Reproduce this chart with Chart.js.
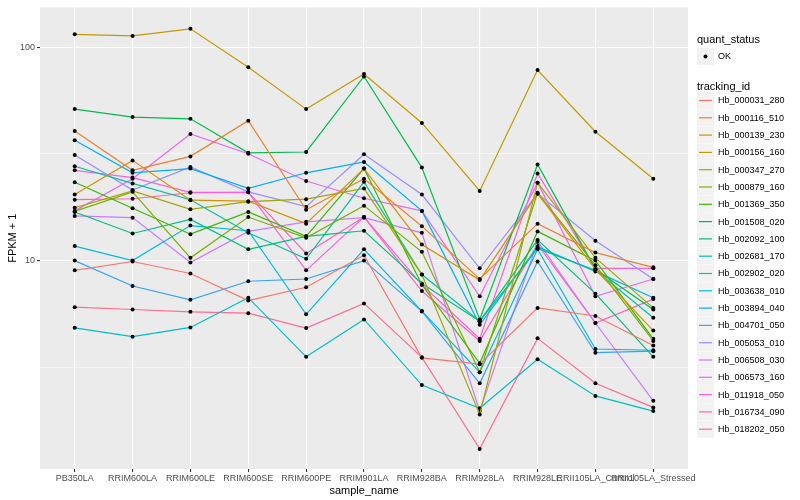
<!DOCTYPE html>
<html>
<head>
<meta charset="utf-8">
<script src="https://cdn.jsdelivr.net/npm/chart.js@4/dist/chart.umd.min.js"></script>
<style>
  body { margin: 0; background: #fff; }
  canvas { display: block; }
</style>
</head>
<body>
<canvas id="fpkmChart" width="800" height="500"></canvas>
<script>

/* categories */
const samples = ["PB350LA","RRIM600LA","RRIM600LE","RRIM600SE","RRIM600PE","RRIM901LA",
                 "RRIM928BA","RRIM928LA","RRIM928LE","RRII105LA_Control","RRII105LA_Stressed"];

const trackingIds = ["Hb_000031_280","Hb_000116_510","Hb_000139_230","Hb_000156_160","Hb_000347_270",
                     "Hb_000879_160","Hb_001369_350","Hb_001508_020","Hb_002092_100","Hb_002681_170",
                     "Hb_002902_020","Hb_003638_010","Hb_003894_040","Hb_004701_050","Hb_005053_010",
                     "Hb_006508_030","Hb_006573_160","Hb_011918_050","Hb_016734_090","Hb_018202_050"];

/* FPKM + 1, one array per gene */
const hb_000031_280 = [9.0, 9.9, 8.7, 6.5, 7.5, 10.6, 3.5, 3.27, 6.0, 5.5, 4.0];
const hb_000116_510 = [40.5, 26.5, 30.8, 45.3, 17.3, 24.2, 14.5, 8.2, 14.9, 10.9, 9.3];
const hb_000139_230 = [20.4, 29.5, 19.2, 19.0, 14.9, 27.0, 11.9, 8.1, 20.6, 9.1, 4.7];
const hb_000156_160 = [115, 113, 122, 80.7, 51.3, 75, 44.2, 21.2, 78.2, 40.2, 24.2];
const hb_000347_270 = [17.7, 21.2, 17.4, 18.9, 19.4, 21.8, 8.6, 1.9, 23.2, 10.3, 6.0];
const hb_000879_160 = [17.0, 21.0, 10.3, 16.0, 12.8, 18.1, 11.0, 3.0, 20.8, 9.5, 4.2];
const hb_001369_350 = [23.3, 17.6, 13.3, 16.9, 13.0, 27.0, 7.7, 3.3, 13.7, 10.0, 4.3];
const hb_001508_020 = [51.3, 47.1, 46.2, 32.0, 32.3, 73, 27.3, 5.3, 28.2, 9.1, 5.9];
const hb_002092_100 = [16.9, 13.4, 15.6, 11.3, 13.0, 13.8, 7.8, 5.2, 12.5, 7.0, 3.54];
const hb_002681_170 = [27.7, 23.0, 19.3, 13.5, 10.2, 23.4, 8.6, 5.2, 11.4, 9.0, 5.4];
const hb_002902_020 = [4.84, 4.4, 4.86, 6.7, 3.54, 5.3, 2.61, 2.03, 3.45, 2.32, 1.97];
const hb_003638_010 = [11.7, 10.0, 14.6, 13.8, 5.6, 11.3, 5.8, 3.0, 11.3, 3.85, 3.8];
const hb_003894_040 = [36.7, 25.8, 27.0, 21.8, 25.8, 29.0, 17.1, 5.0, 11.6, 8.9, 6.7];
const hb_004701_050 = [10.0, 7.6, 6.55, 8.0, 8.2, 10.0, 5.78, 2.66, 9.9, 3.7, 3.76];
const hb_005053_010 = [31.3, 21.4, 27.5, 21.0, 17.9, 31.5, 20.4, 9.2, 20.6, 12.4, 8.2];
const hb_006508_030 = [16.2, 15.9, 9.8, 13.7, 15.2, 15.9, 13.5, 1.97, 12.3, 5.1, 2.2];
const hb_006573_160 = [17.1, 24.2, 39.2, 31.7, 23.6, 19.6, 17.1, 6.8, 23.2, 6.8, 8.2];
const hb_011918_050 = [26.5, 24.5, 20.9, 20.9, 9.0, 16.0, 7.7, 4.3, 25.6, 9.2, 9.2];
const hb_016734_090 = [19.3, 19.5, 20.8, 20.9, 10.8, 16.0, 7.2, 4.2, 11.9, 5.1, 6.6];
const hb_018202_050 = [6.05, 5.9, 5.75, 5.67, 4.83, 6.3, 3.52, 1.31, 4.32, 2.66, 2.05];

const seriesValues = [hb_000031_280, hb_000116_510, hb_000139_230, hb_000156_160, hb_000347_270,
                      hb_000879_160, hb_001369_350, hb_001508_020, hb_002092_100, hb_002681_170,
                      hb_002902_020, hb_003638_010, hb_003894_040, hb_004701_050, hb_005053_010,
                      hb_006508_030, hb_006573_160, hb_011918_050, hb_016734_090, hb_018202_050];

const majorTicks = [10, 100];
const minorTicks = [3.1623, 31.623];

/* ggplot default hue palette, 20 levels */
const colors = ["#F8766D","#EA8331","#D89000","#C09B00","#A3A500","#7CAE00","#39B600","#00BB4E",
                "#00BF7D","#00C1A3","#00BFC4","#00BAE0","#00B0F6","#35A2FF","#9590FF","#C77CFF",
                "#E76BF3","#FA62DB","#FF62BC","#FF6C91"];

const FONT = "'Liberation Sans', Arial, sans-serif";

const datasets = trackingIds.map((id, s) => ({
    label: id,
    data: seriesValues[s].map((v, i) => ({x: i, y: v})),
    borderColor: colors[s],
    backgroundColor: "#000",
    borderWidth: 1.2,
    pointRadius: 2,
    pointBorderWidth: 0,
    pointBackgroundColor: "#000",
    tension: 0,
    fill: false
}));

/* grey panel behind the plot */
const panelBg = {
    id: "panelBg",
    beforeDraw(chart){
        const {ctx, chartArea:a} = chart;
        ctx.save();
        ctx.fillStyle = "#EBEBEB";
        ctx.fillRect(a.left, a.top, a.right - a.left, a.bottom - a.top);
        ctx.restore();
    }
};

/* ggplot style legend on the right */
const sideLegend = {
    id: "sideLegend",
    afterDraw(chart){
        const ctx = chart.ctx;
        const x0 = 697;
        ctx.save();
        ctx.textBaseline = "middle";
        ctx.textAlign = "left";

        ctx.fillStyle = "#000";
        ctx.font = "11px " + FONT;
        ctx.fillText("quant_status", x0, 40);

        ctx.fillStyle = "#F2F2F2";
        ctx.fillRect(x0, 48, 17, 17);
        ctx.fillStyle = "#000";
        ctx.beginPath();
        ctx.arc(x0 + 8.5, 56.5, 2, 0, Math.PI * 2);
        ctx.fill();
        ctx.font = "9px " + FONT;
        ctx.fillText("OK", x0 + 21, 57);

        ctx.font = "11px " + FONT;
        ctx.fillText("tracking_id", x0, 87);

        trackingIds.forEach((id, i) => {
            const yc = 100.5 + i * 17.3;
            ctx.fillStyle = "#F2F2F2";
            ctx.fillRect(x0, yc - 8.5, 17, 17);
            ctx.strokeStyle = colors[i];
            ctx.lineWidth = 1.2;
            ctx.beginPath();
            ctx.moveTo(x0 + 2, yc);
            ctx.lineTo(x0 + 15, yc);
            ctx.stroke();
            ctx.fillStyle = "#000";
            ctx.font = "9px " + FONT;
            ctx.fillText(id, x0 + 21, yc + 0.5);
        });
        ctx.restore();
    }
};

new Chart(document.getElementById("fpkmChart"), {
    type: "line",
    data: { datasets: datasets },
    plugins: [panelBg, sideLegend],
    options: {
        responsive: false,
        animation: false,
        devicePixelRatio: 1,
        layout: { padding: { left: 0, right: 112, top: 5, bottom: 0 } },
        plugins: { legend: { display: false }, tooltip: { enabled: false } },
        scales: {
            x: {
                type: "linear",
                min: -0.6,
                max: samples.length - 0.4,
                afterBuildTicks(scale){
                    scale.ticks = samples.map((_, i) => ({ value: i }));
                },
                afterFit(scale){ scale.height = 31; },
                border: { display: false },
                grid: { color: "#FFFFFF", lineWidth: 1.1, tickLength: 3, tickColor: "#333333" },
                ticks: {
                    autoSkip: false, maxRotation: 0, minRotation: 0, padding: 1,
                    color: "#4D4D4D", font: { family: FONT, size: 9 },
                    callback: v => samples[v]
                },
                title: {
                    display: true, text: "sample_name", color: "#000",
                    font: { family: FONT, size: 11 }, padding: { top: 0, bottom: 2 }
                }
            },
            y: {
                type: "logarithmic",
                min: Math.pow(10, 0.023),
                max: Math.pow(10, 2.187),
                afterBuildTicks(scale){
                    scale.ticks = minorTicks.concat(majorTicks).sort((a, b) => a - b)
                        .map(v => ({ value: v, major: majorTicks.includes(v) }));
                },
                afterFit(scale){ scale.width = 40; },
                border: { display: false },
                grid: {
                    color: "#FFFFFF",
                    lineWidth: c => (c.tick && c.tick.major) ? 1.1 : 0.5,
                    tickLength: 3,
                    tickColor: c => (c.tick && c.tick.major) ? "#333333" : "rgba(0,0,0,0)"
                },
                ticks: {
                    padding: 2, color: "#4D4D4D", font: { family: FONT, size: 9 },
                    callback: v => majorTicks.includes(v) ? String(v) : ""
                },
                title: {
                    display: true, text: "FPKM + 1", color: "#000",
                    font: { family: FONT, size: 11 }, padding: { top: 6, bottom: 0 }
                }
            }
        }
    }
});
</script>
</body>
</html>
